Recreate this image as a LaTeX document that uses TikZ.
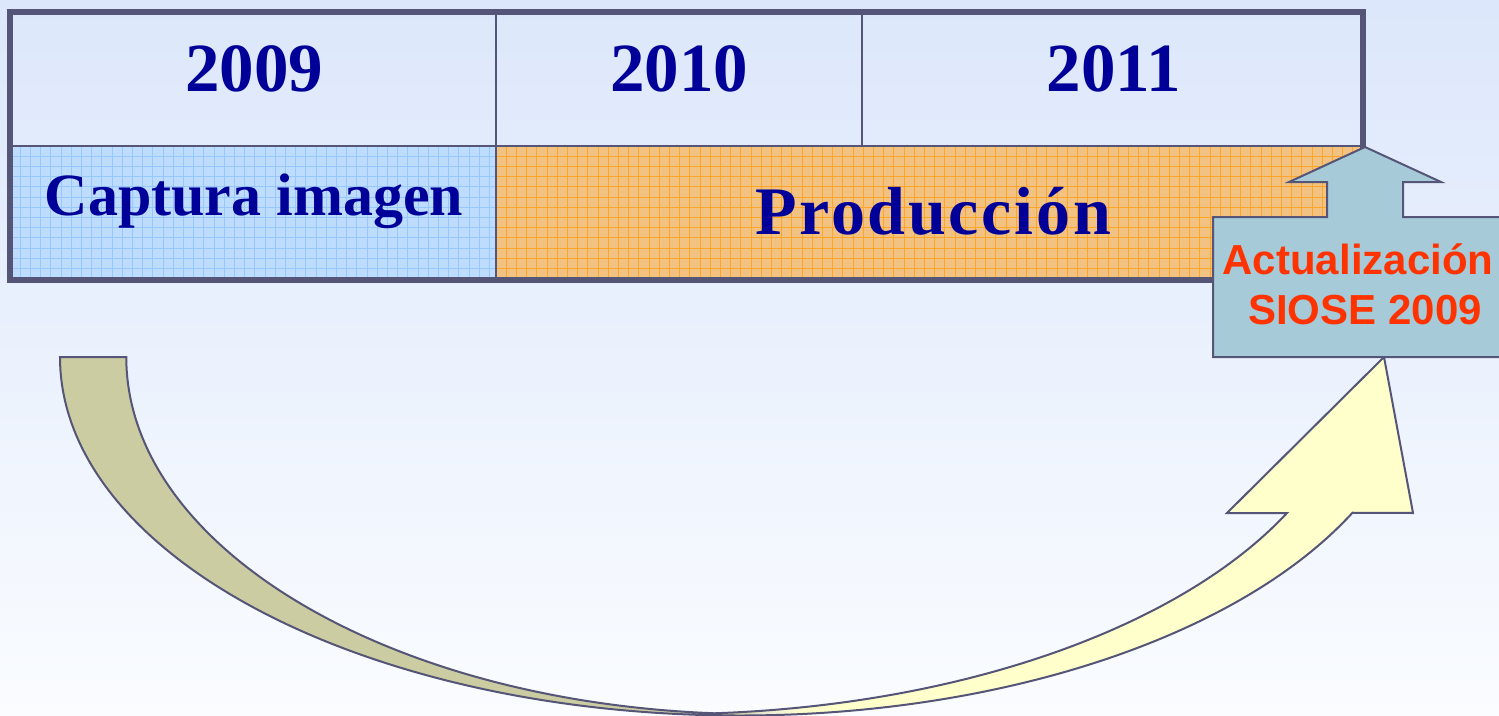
\documentclass[tikz,border=0pt]{standalone}
\usepackage{fontspec}
\setmainfont{Liberation Serif}
\newfontfamily\calloutfont{Liberation Sans}
\newfontfamily\prodfont{Liberation Serif}[LetterSpace=4]
\definecolor{bgtop}{RGB}{220,231,251}
\definecolor{bgbot}{RGB}{250,252,255}
\definecolor{linecol}{RGB}{85,85,119}
\definecolor{yearblue}{RGB}{0,0,153}
\definecolor{cellblue}{RGB}{190,220,254}
\definecolor{gridblue}{RGB}{150,200,255}
\definecolor{cellorange}{RGB}{242,194,130}
\definecolor{gridorange}{RGB}{255,165,40}
\definecolor{callfill}{RGB}{166,202,216}
\definecolor{calltext}{RGB}{255,51,0}
\definecolor{arrowolive}{RGB}{204,204,163}
\definecolor{arrowmid}{RGB}{238,238,215}
\definecolor{arrowyellow}{RGB}{255,255,204}
\pgfdeclarehorizontalshading{arrowshade}{100bp}{color(0bp)=(arrowolive); color(50bp)=(arrowolive); color(51.2bp)=(arrowmid); color(52.5bp)=(arrowyellow); color(100bp)=(arrowyellow)}
\tikzset{
  yeartext/.style={text=yearblue, font=\fontsize{69}{80}\selectfont\bfseries, inner sep=0pt, anchor=base},
  captext/.style={text=yearblue, font=\fontsize{60}{70}\selectfont\bfseries, inner sep=0pt, anchor=base},
  prodtext/.style={text=yearblue, font=\prodfont\fontsize{68}{78}\selectfont\bfseries, inner sep=0pt, anchor=base},
  calltxt/.style={text=calltext, font=\calloutfont\fontsize{42}{50}\selectfont\bfseries, inner sep=0pt, anchor=base},
  bluegrid/.style={draw=gridblue, line width=0.9pt},
  orangegrid/.style={draw=gridorange, line width=0.9pt},
  outerline/.style={draw=linecol, line width=5.5pt},
  innerline/.style={draw=linecol, line width=2.6pt},
  shapeline/.style={draw=linecol, line width=2pt, line join=miter},
}
\begin{document}
\begin{tikzpicture}[x=1pt,y=-1pt]
\useasboundingbox (0,0) rectangle (1499,715);
\begin{scope}
\clip (0,0) rectangle (1499,715);
\shade[top color=bgtop,bottom color=bgbot] (0,0) rectangle (1499,715);
% blue cell
\begin{scope}
\clip (10,146) rectangle (496,280);
\fill[cellblue] (10,146) rectangle (496,280);
\foreach \i in {1,...,48} \draw[bluegrid] ({10+10.2*\i},146) -- ++(0,134);
\foreach \j in {1,...,13} \draw[bluegrid] (10,{146+10.2*\j}) -- ++(486,0);
\end{scope}
% orange cell
\begin{scope}
\clip (496,146) rectangle (1363,280);
\fill[cellorange] (496,146) rectangle (1363,280);
\foreach \i in {1,...,85} \draw[orangegrid] ({496+10.2*\i},146) -- ++(0,134);
\foreach \j in {1,...,13} \draw[orangegrid] (496,{146+10.2*\j}) -- ++(867,0);
\end{scope}
% table lines
\draw[innerline] (496,12) -- (496,280);
\draw[innerline] (862,12) -- (862,146);
\draw[innerline] (10,146) -- (1363,146);
\draw[outerline] (10,12) rectangle (1363,280);
% texts
\node[yeartext] (y2009) at (254,91) {2009};
\node[yeartext] (y2010) at (679,91) {2010};
\node[yeartext] (y2011) at (1114,91) {2011};
\node[captext] (captura) at (254,215) {Captura imagen};
\node[prodtext] (produccion) at (933,234) {Producción};
% curved arrow
\path[shading=arrowshade, shapeline]
  (60,357) arc[start angle=180, end angle=25.75, x radius=680, y radius=358.5]
  -- (1413,513) -- (1384,357) -- (1227,513) -- (1287,513)
  arc[start angle=25.9, end angle=86.2, x radius=687, y radius=357]
  arc[start angle=93.8, end angle=180, x radius=630, y radius=357]
  -- cycle;
% callout
\draw[shapeline, fill=callfill]
  (1213,217) -- (1327,217) -- (1327,182) -- (1289,182) -- (1365,147)
  -- (1441,182) -- (1403,182) -- (1403,217) -- (1520,217) -- (1520,357)
  -- (1213,357) -- cycle;
\node[calltxt] (actual1) at (1358,274) {Actualización};
\node[calltxt] (actual2) at (1365,324) {SIOSE 2009};
\end{scope}
\end{tikzpicture}
\end{document}
